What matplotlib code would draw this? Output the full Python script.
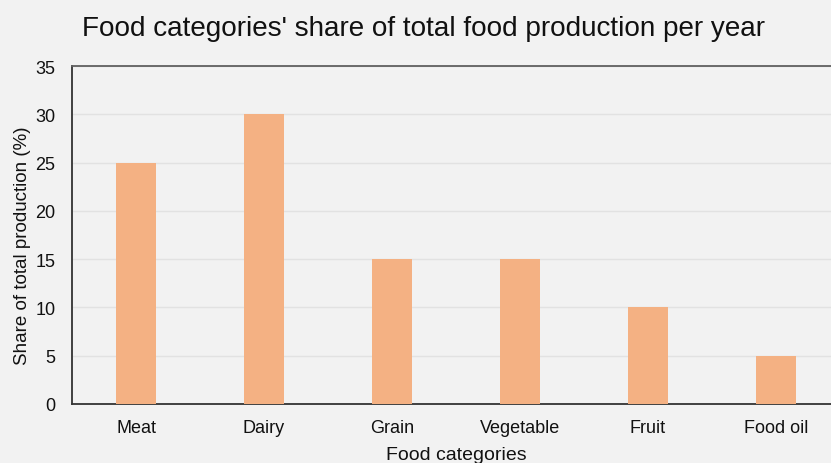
import matplotlib
matplotlib.use('Agg')
import matplotlib.pyplot as plt
import numpy as np

categories = ['Meat', 'Dairy', 'Grain', 'Vegetable', 'Fruit', 'Food oil']
shares = [25, 30, 15, 15, 10, 5]
yticks = [0, 5, 10, 15, 20, 25, 30, 35]

plt.rcParams['font.family'] = ['Liberation Sans', 'DejaVu Sans']

bg = '#f2f2f2'
fig = plt.figure(figsize=(8.31, 4.64), dpi=100, facecolor=bg)
ax = fig.add_axes([72/831, 59/464, 768/831, 338/464], facecolor=bg)

x = np.arange(len(categories))
ax.bar(x, shares, width=0.31, color='#f4b183', zorder=3)

ax.set_xlim(-0.5, len(categories) - 0.5)
ax.set_ylim(0, 35)
ax.set_yticks(yticks)
ax.set_xticks(x)
ax.set_xticklabels(categories)
ax.tick_params(axis='both', length=0, labelsize=13, colors='#111111')
ax.tick_params(axis='x', pad=11)
ax.tick_params(axis='y', pad=12)
ax.grid(axis='y', color='#e2e2e2', linewidth=1, zorder=0)

for s in ['left', 'bottom']:
    ax.spines[s].set_color('#333333')
    ax.spines[s].set_linewidth(1.3)
ax.spines['top'].set_color('#606060')
ax.spines['top'].set_linewidth(1.3)
ax.spines['right'].set_visible(False)

ax.set_xlabel('Food categories', fontsize=14, color='#111111', labelpad=7)
ax.set_ylabel('Share of total production (%)', fontsize=13.5, color='#111111')
ax.yaxis.set_label_coords(-0.053, 0.47)
fig.text(0.5095, 0.938, "Food categories' share of total food production per year",
         ha='center', va='center', fontsize=20.1, color='#111111')

fig.savefig('out.png', dpi=100, facecolor=bg)
